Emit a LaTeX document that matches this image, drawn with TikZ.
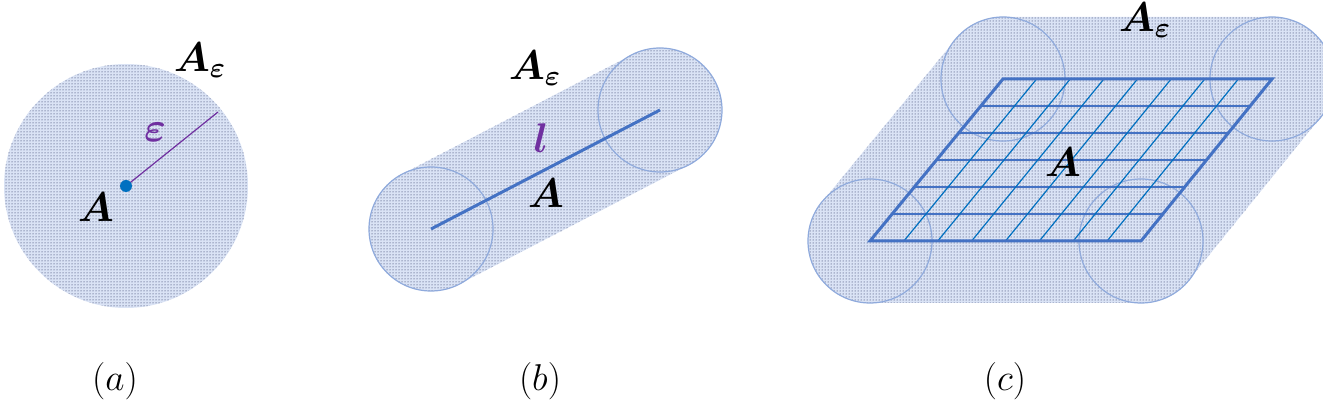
\documentclass[tikz,border=0pt]{standalone}
\usepackage{amsmath,bm}
\usetikzlibrary{patterns,calc}
\definecolor{fillblue}{RGB}{218,227,245}
\definecolor{rimblue}{RGB}{143,170,220}
\definecolor{lineblue}{RGB}{68,114,196}
\definecolor{gridblue}{RGB}{0,112,192}
\definecolor{epspurple}{RGB}{112,48,160}
\definecolor{dotnavy}{RGB}{20,30,80}
\begin{document}
\begin{tikzpicture}[x=1pt, y=-1pt,
    ball/.style = {draw=rimblue, line width=1.2pt},
    shade/.style = {fill=fillblue},
    dotfill/.style = {pattern=dots, pattern color=dotnavy},
    lab/.style = {font=\huge, scale=2.0, inner sep=0pt},
    sublab/.style = {font=\huge, scale=1.8, inner sep=0pt}]
    \useasboundingbox (0,0) rectangle (1323,411);

    % (a)
    \coordinate (a0) at (126,186);
    \coordinate (a1) at (218,112);
    \foreach \s in {shade,dotfill} \path[\s] (a0) circle (122);
    \draw[epspurple, line width=1.2pt] (a0) -- (a1);
    \fill[gridblue] (a0) circle (6);
    \node[lab] (Aea) at (200,60) {$\bm{A_\varepsilon}$};
    \node[lab, text=epspurple] (eps) at (155,132) {$\bm{\varepsilon}$};
    \node[lab] (Aa) at (96,207) {$\bm{A}$};
    \node[sublab] (ca) at (115,381) {$(a)$};

    % (b)
    \coordinate (b0) at (431,229);
    \coordinate (b1) at (660,110);
    \foreach \s in {shade,dotfill}
        \path[\s] (402.4,174) -- (631.4,55) -- (688.6,165) -- (459.6,284) -- cycle
            (b0) circle (62) (b1) circle (62);
    \draw[ball] (b0) circle (62);
    \draw[ball] (b1) circle (62);
    \draw[lineblue, line width=3pt] (b0) -- (b1);
    \node[lab] (Aeb) at (535,68) {$\bm{A_\varepsilon}$};
    \node[lab, text=epspurple] (ell) at (541,138) {$\bm{l}$};
    \node[lab] (Ab) at (546,193) {$\bm{A}$};
    \node[sublab] (cb) at (540,381) {$(b)$};

    % (c)
    \coordinate (p1) at (870,241);
    \coordinate (p2) at (1141,241);
    \coordinate (p3) at (1272,79);
    \coordinate (p4) at (1003,79);
    \foreach \s in {shade,dotfill}
        \path[\s] (870,303) -- (822,202) -- (955,40) -- (1003,17) -- (1272,17)
            -- (1320,118) -- (1189,280) -- (1141,303) -- cycle
            (p1) circle (62) (p2) circle (62) (p3) circle (62) (p4) circle (62);
    \foreach \p in {p1,p2,p3,p4} \draw[ball] (\p) circle (62);
    \foreach \k in {1,...,5}
        \draw[lineblue, line width=1.6pt] ($(p1)!\k/6!(p4)$) -- ($(p2)!\k/6!(p3)$);
    \foreach \k in {1,...,7}
        \draw[gridblue, line width=1.2pt] ($(p1)!\k/8!(p2)$) -- ($(p4)!\k/8!(p3)$);
    \draw[lineblue, line width=3pt, line join=miter] (p1) -- (p2) -- (p3) -- (p4) -- cycle;
    \node[lab] (Aec) at (1145,20) {$\bm{A_\varepsilon}$};
    \node[lab] (Ac) at (1063,162) {$\bm{A}$};
    \node[sublab] (cc) at (1005,381) {$(c)$};
\end{tikzpicture}
\end{document}
